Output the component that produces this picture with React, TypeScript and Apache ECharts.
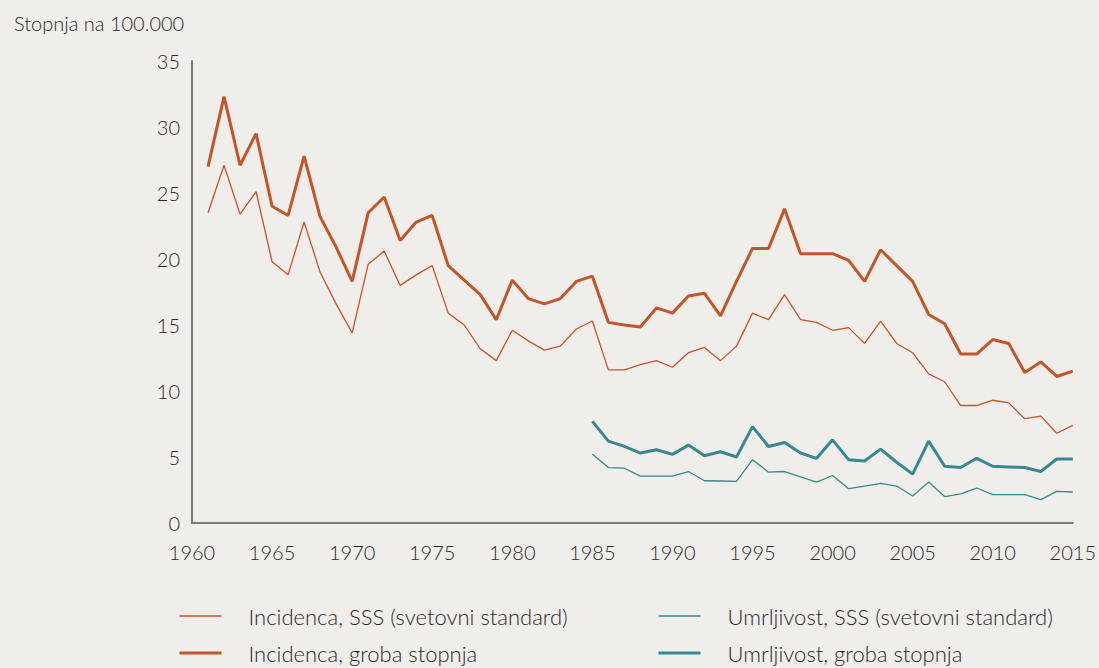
import React, { useEffect, useRef } from "react";
import * as echarts from "echarts";

const incidenceYears = [
  1961, 1962, 1963, 1964, 1965, 1966, 1967, 1968, 1969, 1970,
  1971, 1972, 1973, 1974, 1975, 1976, 1977, 1978, 1979, 1980,
  1981, 1982, 1983, 1984, 1985, 1986, 1987, 1988, 1989, 1990,
  1991, 1992, 1993, 1994, 1995, 1996, 1997, 1998, 1999, 2000,
  2001, 2002, 2003, 2004, 2005, 2006, 2007, 2008, 2009, 2010,
  2011, 2012, 2013, 2014, 2015,
];
const mortalityYears = [
  1985, 1986, 1987, 1988, 1989, 1990,
  1991, 1992, 1993, 1994, 1995, 1996, 1997, 1998, 1999, 2000,
  2001, 2002, 2003, 2004, 2005, 2006, 2007, 2008, 2009, 2010,
  2011, 2012, 2013, 2014, 2015,
];

const incidenceSSS = [
  23.5, 27.1, 23.4, 25.1, 19.8, 18.8, 22.8, 19.0, 16.6, 14.4,
  19.6, 20.6, 18.0, 18.8, 19.5, 15.9, 15.0, 13.2, 12.3, 14.6,
  13.8, 13.1, 13.4, 14.7, 15.3, 11.6, 11.6, 12.0, 12.3, 11.8,
  12.9, 13.3, 12.3, 13.4, 15.9, 15.4, 17.3, 15.4, 15.2, 14.6,
  14.8, 13.6, 15.3, 13.6, 12.9, 11.3, 10.7, 8.9, 8.9, 9.3,
  9.1, 7.9, 8.1, 6.8, 7.4,
];
const incidenceCrude = [
  27.0, 32.3, 27.1, 29.5, 24.0, 23.3, 27.8, 23.2, 20.9, 18.3,
  23.5, 24.7, 21.4, 22.8, 23.3, 19.5, 18.4, 17.3, 15.4, 18.4,
  17.0, 16.6, 17.0, 18.3, 18.7, 15.2, 15.0, 14.85, 16.3, 15.9,
  17.2, 17.4, 15.7, 18.3, 20.8, 20.8, 23.8, 20.4, 20.4, 20.4,
  19.9, 18.3, 20.7, 19.5, 18.3, 15.8, 15.1, 12.8, 12.8, 13.9,
  13.6, 11.4, 12.2, 11.1, 11.5,
];
const mortalitySSS = [
  5.2, 4.2, 4.15, 3.55, 3.55, 3.55,
  3.9, 3.2, 3.18, 3.15, 4.8, 3.85, 3.9, 3.5, 3.1, 3.6,
  2.6, 2.8, 3.0, 2.8, 2.05, 3.1, 2.0, 2.2, 2.65, 2.15,
  2.15, 2.15, 1.77, 2.4, 2.35,
];
const mortalityCrude = [
  7.7, 6.2, 5.8, 5.3, 5.55, 5.2,
  5.9, 5.1, 5.4, 5.0, 7.3, 5.8, 6.1, 5.3, 4.9, 6.3,
  4.8, 4.7, 5.6, 4.6, 3.7, 6.2, 4.3, 4.2, 4.9, 4.3,
  4.25, 4.2, 3.9, 4.85, 4.85,
];

const seriesNames = [
  "Incidenca, SSS (svetovni standard)",
  "Incidenca, groba stopnja",
  "Umrljivost, SSS (svetovni standard)",
  "Umrljivost, groba stopnja",
];

const ORANGE = "#c2552a";
const TEAL = "#37888f";
const FONT = "Lato, 'Noto Sans', sans-serif";
const THIN = 1.3;
const THICK = 3;

const pair = (xs: number[], ys: number[]) => xs.map((x, i) => [x, ys[i]]);

export default function App() {
  const ref = useRef<HTMLDivElement>(null);
  useEffect(() => {
    if (!ref.current) return;
    const chart = echarts.init(ref.current, null, { renderer: "svg" });
    const mk = (name: string, data: number[][], color: string, width: number) => ({
      name,
      type: "line",
      data,
      symbol: "none",
      showSymbol: false,
      lineStyle: { color, width },
      itemStyle: { color },
    });
    const legendText = {
      color: "#2a2a2a",
      fontSize: 22,
      fontFamily: FONT,
      fontWeight: 300,
      padding: [0, 0, 0, 22],
    };
    const legendBase = {
      orient: "vertical",
      top: 605,
      padding: 0,
      itemWidth: 42,
      itemHeight: 1,
      itemGap: 15,
      height: 70,
      textStyle: legendText,
    };
    chart.setOption({
      animation: false,
      backgroundColor: "#efeeea",
      textStyle: { fontFamily: FONT },
      title: {
        text: "Stopnja na 100.000",
        left: 9,
        top: 8,
        textStyle: { fontSize: 20, fontWeight: 300, color: "#2a2a2a", fontFamily: FONT },
      },
      grid: { left: 192, right: 26, top: 61, bottom: 145, containLabel: false },
      legend: [
        {
          ...legendBase,
          left: 178,
          data: [
            { name: seriesNames[0], lineStyle: { width: THIN } },
            { name: seriesNames[1], lineStyle: { width: THICK } },
          ],
        },
        {
          ...legendBase,
          left: 657,
          data: [
            { name: seriesNames[2], lineStyle: { width: THIN } },
            { name: seriesNames[3], lineStyle: { width: THICK } },
          ],
        },
      ],
      xAxis: {
        type: "value",
        min: 1960,
        max: 2015,
        interval: 5,
        axisLine: { show: true, lineStyle: { color: "#7a7975", width: 2 } },
        axisTick: { show: false },
        splitLine: { show: false },
        axisLabel: {
          color: "#2a2a2a",
          fontSize: 20,
          fontWeight: 300,
          margin: 19,
          fontFamily: FONT,
          formatter: (v: number) => String(v),
        },
      },
      yAxis: {
        type: "value",
        min: 0,
        max: 35,
        interval: 5,
        axisLine: { show: true, lineStyle: { color: "#7a7975", width: 2 } },
        axisTick: { show: false },
        splitLine: { show: false },
        axisLabel: { color: "#2a2a2a", fontSize: 20, fontWeight: 300, margin: 12, fontFamily: FONT },
      },
      series: [
        mk(seriesNames[0], pair(incidenceYears, incidenceSSS), ORANGE, THIN),
        mk(seriesNames[1], pair(incidenceYears, incidenceCrude), ORANGE, THICK),
        mk(seriesNames[2], pair(mortalityYears, mortalitySSS), TEAL, THIN),
        mk(seriesNames[3], pair(mortalityYears, mortalityCrude), TEAL, THICK),
      ],
    });
    return () => chart.dispose();
  }, []);
  return (
    <div
      ref={ref}
      style={{ position: "absolute", left: 0, top: 0, width: 1099, height: 668 }}
    />
  );
}
